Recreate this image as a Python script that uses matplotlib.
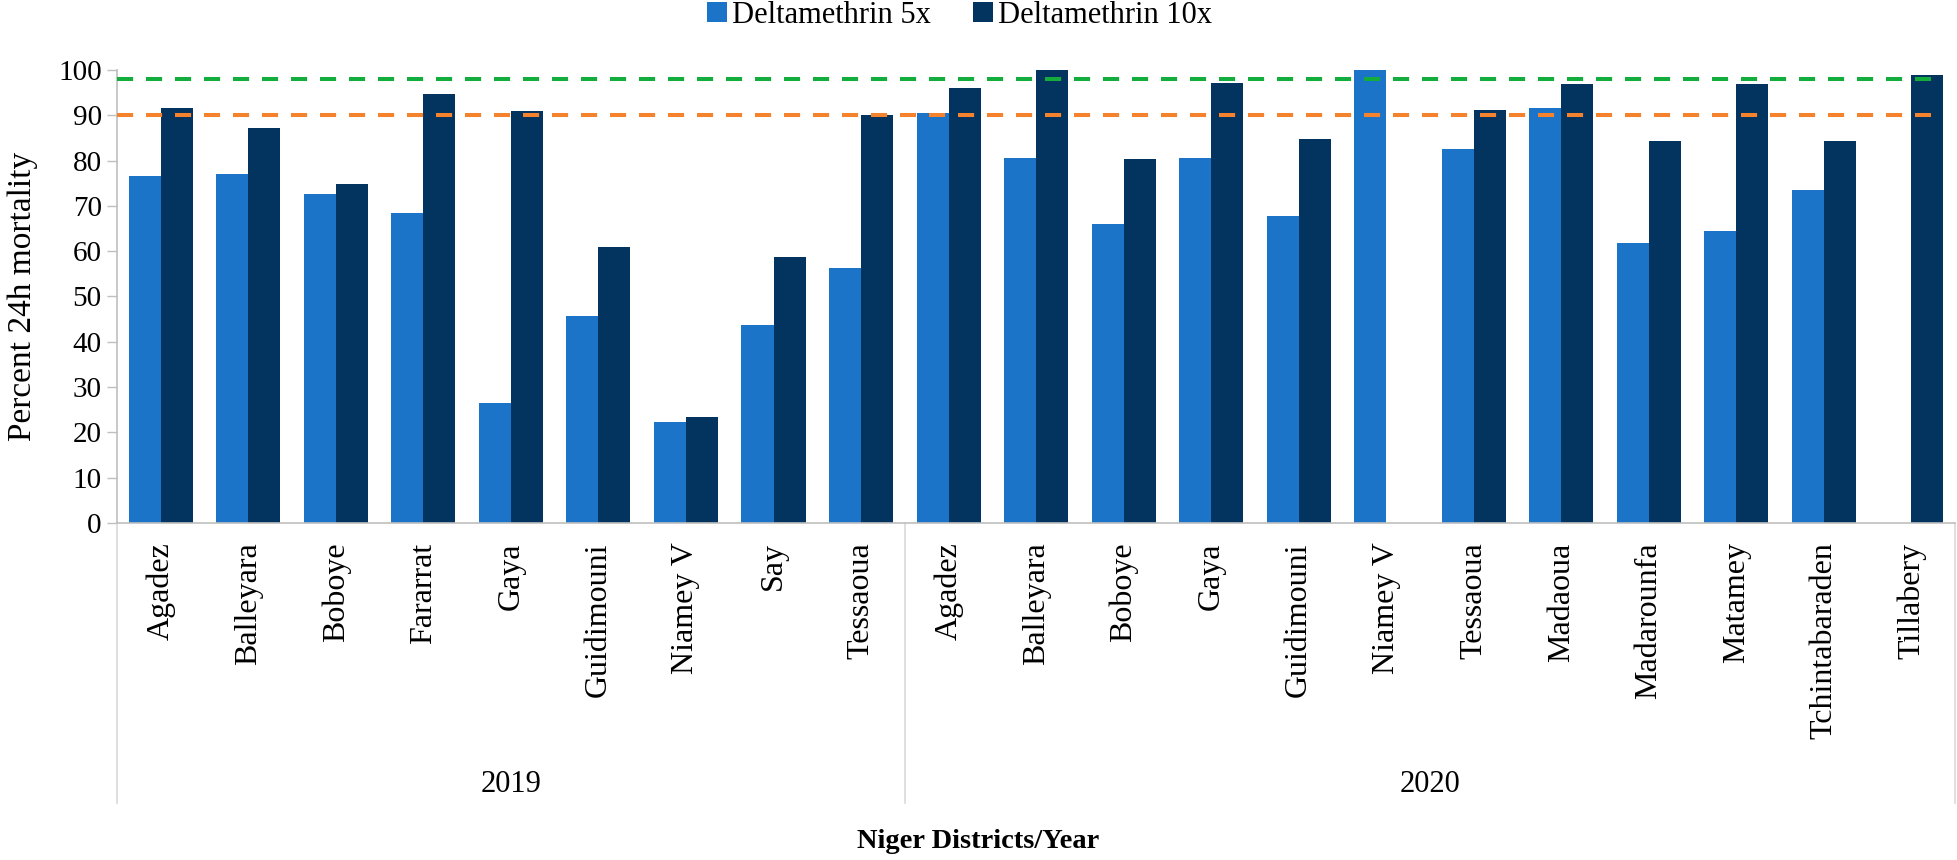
import matplotlib
matplotlib.use("Agg")
import matplotlib.pyplot as plt
import matplotlib.transforms as mtransforms
import numpy as np

plt.rcParams['font.family'] = ['Liberation Serif', 'DejaVu Serif']

# Districts per year
districts_2019 = ['Agadez', 'Balleyara', 'Boboye', 'Fararrat', 'Gaya',
                  'Guidimouni', 'Niamey V', 'Say', 'Tessaoua']
districts_2020 = ['Agadez', 'Balleyara', 'Boboye', 'Gaya', 'Guidimouni',
                  'Niamey V', 'Tessaoua', 'Madaoua', 'Madarounfa', 'Matamey',
                  'Tchintabaraden', 'Tillabery']

# Percent 24h mortality (NaN = not tested)
delta5_2019 = [76.6, 77.1, 72.6, 68.4, 26.4, 45.7, 22.3, 43.8, 56.2]
delta10_2019 = [91.6, 87.3, 74.9, 94.7, 91.0, 61.0, 23.3, 58.8, 90.0]
delta5_2020 = [90.6, 80.5, 65.9, 80.5, 67.8, 100.0, 82.6, 91.6, 61.9, 64.4, 73.5, np.nan]
delta10_2020 = [96.1, 100.0, 80.3, 97.2, 84.8, np.nan, 91.2, 97.0, 84.4, 97.0, 84.3, 98.9]

years = ['2019', '2020']
threshold_green = 98
threshold_orange = 90

labels = districts_2019 + districts_2020
d5 = delta5_2019 + delta5_2020
d10 = delta10_2019 + delta10_2020
x = np.arange(len(labels))
w = 0.366

c5 = '#1B74C8'
c10 = '#03335F'
grey = '#BFBFBF'

fig = plt.figure(figsize=(19.58, 8.6), dpi=100)
ax = fig.add_axes([0.0598, 0.3919, 0.9387, 0.5267])

ax.bar(x - w / 2, d5, w, color=c5, label='Deltamethrin 5x', zorder=2)
ax.bar(x + w / 2, d10, w, color=c10, label='Deltamethrin 10x', zorder=2)

ax.plot([-0.5, 20.22], [threshold_green] * 2, color='#12AD3D', lw=2.9,
        dashes=(4, 3.2), zorder=3, clip_on=False)
ax.plot([-0.5, 20.22], [threshold_orange] * 2, color='#F5832D', lw=2.9,
        dashes=(4, 3.2), zorder=3, clip_on=False)

ax.set_xlim(-0.5, len(labels) - 0.5)
ax.set_ylim(0, 100)
ax.set_yticks(range(0, 101, 10))
ax.tick_params(axis='y', labelsize=21, length=7, width=1, color=grey, pad=4)
ax.set_xticks(x)
ax.set_xticklabels(labels, rotation=90, fontsize=23)
ax.tick_params(axis='x', length=0, pad=14)

for s in ['top', 'right']:
    ax.spines[s].set_visible(False)
for s in ['left', 'bottom']:
    ax.spines[s].set_color(grey)
    ax.spines[s].set_linewidth(1.2)

ax.set_ylabel('Percent 24h mortality', fontsize=24)
ax.yaxis.set_label_coords(-0.043, 0.5)

# group separators and year labels
trans = mtransforms.blended_transform_factory(ax.transData, fig.transFigure)
y_axis_fig = 0.3919
y_sep_bottom = 1 - 803 / 860
n19 = len(districts_2019)
for xs in [-0.5, n19 - 0.5, len(labels) - 0.5]:
    ax.plot([xs, xs], [y_axis_fig, y_sep_bottom], color='#D9D9D9', lw=1.2,
            transform=trans, clip_on=False)
ax.text((n19 - 1) / 2, 1 - 785 / 860, years[0], transform=trans,
        ha='center', va='center', fontsize=22)
ax.text(n19 + (len(districts_2020) - 1) / 2, 1 - 785 / 860, years[1],
        transform=trans, ha='center', va='center', fontsize=22)

fig.text(0.4995, 1 - 842 / 860, 'Niger Districts/Year', ha='center', va='center',
         fontsize=20.5, fontweight='bold')

fig.legend(loc='center', bbox_to_anchor=(0.49, 0.982), ncol=2, frameon=False,
           fontsize=22, handlelength=0.65, handleheight=0.65,
           handletextpad=0.15, columnspacing=1.4)

fig.savefig('out.png', dpi=100)
